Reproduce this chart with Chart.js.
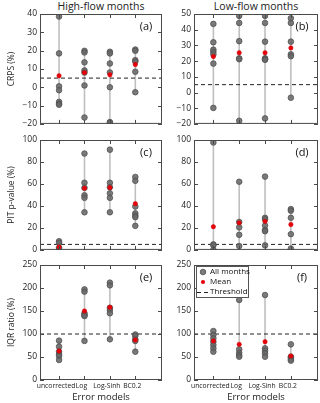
<!DOCTYPE html>
<html>
<head>
<meta charset="utf-8">
<script src="https://cdn.jsdelivr.net/npm/chart.js@4/dist/chart.umd.min.js"></script>
<style>
body{margin:0;background:#fff}
#wrap{position:relative;width:320px;height:403px;overflow:hidden;font-family:"Open Sans",sans-serif}
canvas{position:absolute}
.ttl{position:absolute;top:0;font-size:10.5px;line-height:13px;color:#222;text-align:center}
</style>
</head>
<body>
<div id="wrap">
  <div class="ttl" style="left:40px;width:122px">High-flow months</div>
  <div class="ttl" style="left:194px;width:124px">Low-flow months</div>
</div>
<script>
// error models on the x axis
const models=["uncorrected","Log","Log-Sinh","BC0.2"];

// values per month for each model (%)
const crpsHighAll=[[38.6,18.5,0.5,-1.6,-8,-9,-9.5],[19.9,19,13.6,9.2,8,1,-16.5],[19.4,18.5,13,8.1,0,-19,-19.5],[20.6,19.9,14.8,14,8.5,-2.7]];
const crpsHighMean=[6.3,8,6.8,12.4];
const crpsLowAll=[[43.7,32,27.3,25.9,24.3,18.4,-9.8],[48.8,44.3,32.7,21.8,21.2,-18],[48.8,44.3,32.4,21.8,21.2,20.8,-16.5],[47.3,44.3,32.4,24.3,23.1,-3.3]];
const crpsLowMean=[22.9,25.3,25.3,28.4];
const pitHighAll=[[7.9,6.4,2,0.6],[87.7,61.1,56.5,49.7,47.4,34.2],[91.2,61.1,57,51.5,47.4,34.2],[66.4,62.9,39.5,33.3,31.3,29.8,21.9]];
const pitHighMean=[2.6,56.1,56.7,42.1];
const pitLowAll=[[97.7,5,4.1,0],[62,25.4,20.5,13.7,3.5],[66.7,29.2,27.8,22.2,18.1,17,4.1],[37.1,35.7,29.2,14.3,1.2]];
const pitLowMean=[21.1,24.6,26,23.1];
const iqrHighAll=[[85.5,72.5,61.6,55.8,52,43.5],[197,192,145,141,139,85],[211.6,205.8,157,152,145,88.4],[99,95.7,88.4,85,61.6]];
const iqrHighMean=[63,150,158,87];
const iqrLowAll=[[106.5,97.8,90.6,83.3,76,68.8,61.6],[174,66.7,59.4,54.3,50.7],[184.8,68.8,63.8,58,50.7],[77.5,50.7,48.6,44.9,42]];
const iqrLowMean=[84.8,77.5,83.3,52.2];

// axis ranges and threshold lines
const crpsHighRange=[-20,40,10],crpsLowRange=[-20,50,10],pitRange=[0,100,20],iqrRange=[0,250,50];
const crpsThreshold=5,pitThreshold=5,iqrThreshold=100;
const xRange=[-0.75,4.05];

const legendLabels=["All months","Mean","Threshold"];

const panels=[
  {tag:"(a)",all:crpsHighAll,mean:crpsHighMean,range:crpsHighRange,thr:crpsThreshold,col:0,row:0,ytitle:"CRPS (%)"},
  {tag:"(b)",all:crpsLowAll,mean:crpsLowMean,range:crpsLowRange,thr:crpsThreshold,col:1,row:0},
  {tag:"(c)",all:pitHighAll,mean:pitHighMean,range:pitRange,thr:pitThreshold,col:0,row:1,ytitle:"PIT p-value (%)"},
  {tag:"(d)",all:pitLowAll,mean:pitLowMean,range:pitRange,thr:pitThreshold,col:1,row:1},
  {tag:"(e)",all:iqrHighAll,mean:iqrHighMean,range:iqrRange,thr:iqrThreshold,col:0,row:2,ytitle:"IQR ratio (%)"},
  {tag:"(f)",all:iqrLowAll,mean:iqrLowMean,range:iqrRange,thr:iqrThreshold,col:1,row:2,legend:true}
];

const colLeft=[0,160],colW=[166,160],yAxisW=[40,34],padRight=[4,2];
const rowTop=[0,131,255],rowH=[132,127,148],padTop=[14,9,10],xAxisH=[4,4,23];
const FONT='"Open Sans",sans-serif',FRAME="#4a4a4a",TXT="#222";
const PT_FILL="rgba(105,105,105,0.88)",PT_EDGE="#505050",MEAN_FILL="#e8000b",STEM="#bfbfbf";

const minus=v=>String(v).replace("-","\u2212");

// frame, inward ticks, panel tag, legend
const decor={id:"decor",afterDatasetsDraw(chart,args,opts){
  const {ctx,chartArea:a,scales:{x,y}}=chart;
  ctx.save();
  ctx.strokeStyle=FRAME;ctx.lineWidth=1;
  ctx.strokeRect(a.left+0.5,a.top+0.5,a.right-a.left-1,a.bottom-a.top-1);
  ctx.beginPath();
  y.ticks.forEach(t=>{const py=Math.round(y.getPixelForValue(t.value))+0.5;
    ctx.moveTo(a.left,py);ctx.lineTo(a.left+4,py);ctx.moveTo(a.right,py);ctx.lineTo(a.right-4,py);});
  models.forEach((m,i)=>{const px=Math.round(x.getPixelForValue(i))+0.5;
    ctx.moveTo(px,a.top);ctx.lineTo(px,a.top+4);ctx.moveTo(px,a.bottom);ctx.lineTo(px,a.bottom-4);});
  ctx.stroke();
  ctx.fillStyle="#111";ctx.font="11px "+FONT;ctx.textAlign="center";ctx.textBaseline="middle";
  ctx.fillText(opts.tag,a.right-16,a.top+13);
  if(opts.legend){
    const bx=a.left+2,by=a.top+1,bw=52,bh=31;
    ctx.fillStyle="#fff";ctx.fillRect(bx,by,bw,bh);
    ctx.strokeStyle="#555";ctx.strokeRect(bx+0.5,by+0.5,bw,bh);
    ctx.font="8px "+FONT;ctx.textAlign="left";
    legendLabels.forEach((lab,k)=>{
      const ly=by+6+k*10,mx=bx+7;
      if(k===0){ctx.beginPath();ctx.arc(mx,ly,2.8,0,Math.PI*2);ctx.fillStyle=PT_FILL;ctx.fill();ctx.strokeStyle=PT_EDGE;ctx.lineWidth=0.8;ctx.stroke();}
      if(k===1){ctx.beginPath();ctx.arc(mx,ly,2.1,0,Math.PI*2);ctx.fillStyle=MEAN_FILL;ctx.fill();}
      if(k===2){ctx.beginPath();ctx.strokeStyle="#222";ctx.lineWidth=1;ctx.moveTo(mx-6,ly+0.5);ctx.lineTo(mx-2,ly+0.5);ctx.moveTo(mx+1,ly+0.5);ctx.lineTo(mx+5,ly+0.5);ctx.stroke();}
      ctx.fillStyle="#111";ctx.fillText(lab,bx+14,ly);
    });
  }
  ctx.restore();
}};

const wrap=document.getElementById("wrap");
panels.forEach(p=>{
  const cv=document.createElement("canvas");
  cv.width=colW[p.col];cv.height=rowH[p.row];
  cv.style.left=colLeft[p.col]+"px";cv.style.top=rowTop[p.row]+"px";
  wrap.appendChild(cv);
  const stems=p.all.map((vals,i)=>({data:[{x:i,y:Math.min(...vals)},{x:i,y:Math.max(...vals)}],showLine:true,borderColor:STEM,borderWidth:1.6,pointRadius:0,order:4}));
  const pts=p.all.flatMap((vals,i)=>vals.map(v=>({x:i,y:v})));
  const bottom=p.row===2;
  new Chart(cv,{type:"scatter",data:{datasets:[
    ...stems,
    {data:[{x:xRange[0],y:p.thr},{x:xRange[1],y:p.thr}],showLine:true,borderColor:"#222",borderWidth:1,borderDash:[4,3],pointRadius:0,order:3},
    {data:pts,pointRadius:2.8,backgroundColor:PT_FILL,borderColor:PT_EDGE,borderWidth:0.8,order:2},
    {data:p.mean.map((v,i)=>({x:i,y:v})),pointRadius:2.2,backgroundColor:MEAN_FILL,borderColor:"#d00000",borderWidth:0.5,order:1}
  ]},options:{responsive:false,animation:false,events:[],
    layout:{autoPadding:false,padding:{top:padTop[p.row],right:padRight[p.col],left:0,bottom:0}},
    plugins:{legend:{display:false},tooltip:{enabled:false},decor:{tag:p.tag,legend:!!p.legend}},
    scales:{
      x:{type:"linear",min:xRange[0],max:xRange[1],grid:{display:false,drawTicks:false},border:{display:false},
        afterBuildTicks:s=>{s.ticks=models.map((m,i)=>({value:i}))},
        afterFit:s=>{s.height=xAxisH[p.row]},
        ticks:{display:bottom,padding:2,labelOffset:-3,maxRotation:0,autoSkip:false,color:TXT,font:{family:FONT,size:6.8},callback:v=>models[v]},
        title:{display:bottom,text:"Error models",color:TXT,padding:{top:0,bottom:0},font:{family:FONT,size:9.5}}},
      y:{min:p.range[0],max:p.range[1],grid:{display:false,drawTicks:false},border:{display:false},
        afterFit:s=>{s.width=yAxisW[p.col]},
        ticks:{stepSize:p.range[2],padding:3,color:TXT,font:{family:FONT,size:8.5},callback:v=>minus(v)},
        title:{display:!!p.ytitle,text:p.ytitle||"",color:TXT,padding:{top:6,bottom:0},font:{family:FONT,size:8.5}}}
    }},plugins:[decor]});
});
</script>
</body>
</html>
